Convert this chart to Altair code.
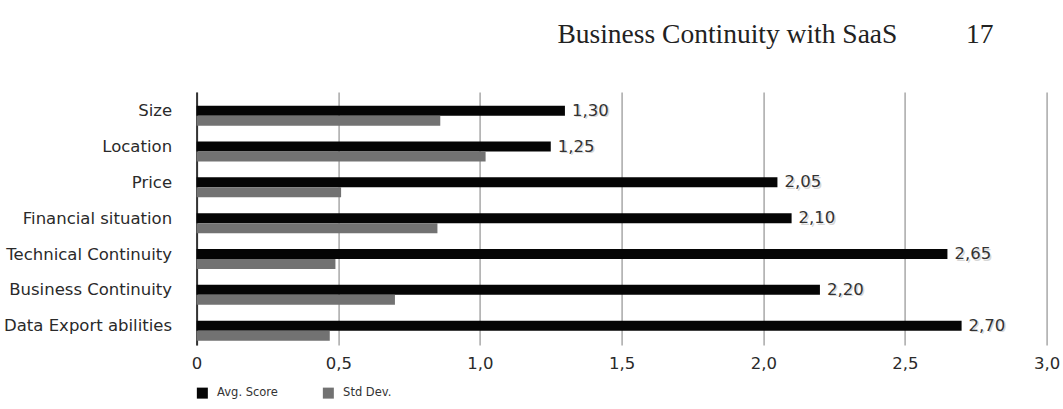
import altair as alt
import pandas as pd

categories = ["Size", "Location", "Price", "Financial situation",
              "Technical Continuity", "Business Continuity", "Data Export abilities"]
avg_scores = [1.30, 1.25, 2.05, 2.10, 2.65, 2.20, 2.70]
std_devs = [0.86, 1.02, 0.51, 0.85, 0.49, 0.70, 0.47]
series_names = ["Avg. Score", "Std Dev."]
series_colors = ["#050505", "#727272"]
x_ticks = [0, 0.5, 1.0, 1.5, 2.0, 2.5, 3.0]

rows = []
for c, a, s in zip(categories, avg_scores, std_devs):
    rows.append({"category": c, "series": series_names[0], "value": a,
                 "label": f"{a:.2f}".replace(".", ",")})
    rows.append({"category": c, "series": series_names[1], "value": s,
                 "label": f"{s:.2f}".replace(".", ",")})
df = pd.DataFrame(rows)

FONT = "DejaVu Sans"

x_enc = alt.X(
    "value:Q",
    scale=alt.Scale(domain=[0, 3], nice=False, zero=True),
    axis=alt.Axis(
        values=x_ticks, title=None, domain=False, ticks=False, grid=True,
        gridColor="#a8a8a8", gridWidth=1.5, labelFlush=False,
        labelExpr="datum.value == 0 ? '0' : replace(format(datum.value, '.1f'), '.', ',')",
        labelFont=FONT, labelFontSize=16.5, labelColor="#2a2a2a", labelPadding=10,
    ),
)
y_enc = alt.Y(
    "category:N", sort=categories,
    scale=alt.Scale(paddingInner=0.442, paddingOuter=0.2515, align=0.76),
    axis=alt.Axis(
        title=None, ticks=False, domain=True, domainColor="#333333", domainWidth=2,
        labelFont=FONT, labelFontSize=16.5, labelColor="#2a2a2a",
        labelPadding=25, labelOffset=-4.5, grid=False, labelLimit=400,
    ),
)
yoff_enc = alt.YOffset(
    "series:N", sort=series_names,
    scale=alt.Scale(domain=series_names, paddingInner=0, paddingOuter=0),
)

bars = alt.Chart(df).mark_bar().encode(
    x=x_enc, y=y_enc, yOffset=yoff_enc,
    color=alt.Color(
        "series:N",
        scale=alt.Scale(domain=series_names, range=series_colors),
        legend=alt.Legend(
            title=None, orient="none", direction="horizontal", legendX=0, legendY=295,
            symbolType="square", symbolSize=121, symbolStrokeWidth=0,
            labelFont=FONT, labelFontSize=11.5, labelColor="#333333",
            labelOffset=9, columnPadding=44,
        ),
    ),
)

avg_df = df[df["series"] == series_names[0]]
shadow = alt.Chart(avg_df).mark_text(
    align="left", baseline="middle", dx=8.5, dy=1.5, font=FONT, fontSize=16.5,
    color="#bdbdbd", opacity=0.6,
).encode(x="value:Q", y=alt.Y("category:N", sort=categories), yOffset=yoff_enc, text="label:N")
labels = alt.Chart(avg_df).mark_text(
    align="left", baseline="middle", dx=7, font=FONT, fontSize=16.5, color="#333333",
).encode(x="value:Q", y=alt.Y("category:N", sort=categories), yOffset=yoff_enc, text="label:N")

chart = alt.layer(bars, shadow, labels).properties(
    width=850, height=253,
    title=alt.TitleParams(
        text="Business Continuity with SaaS" + "\u00a0" * 10 + "17",
        anchor="end", frame="group", font="Liberation Serif", fontSize=27.5,
        fontWeight="normal", color="#222222", dx=-53, offset=22, baseline="alphabetic",
    ),
    autosize=alt.AutoSizeParams(type="none"),
    padding={"left": 196.6, "top": 92, "right": 16.4, "bottom": 64},
    background="white",
).configure_view(stroke=None)

chart.save("out.html", embed_options={"renderer": "svg", "actions": False})
